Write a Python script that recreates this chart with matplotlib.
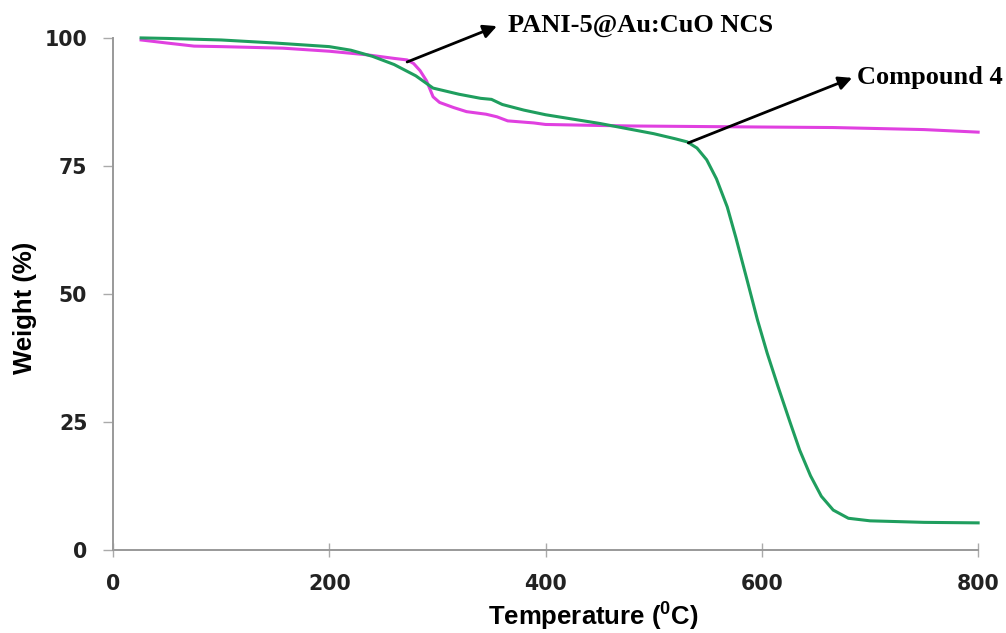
import matplotlib
matplotlib.use("Agg")
import matplotlib.pyplot as plt

# TGA curves
temp_c4 = [26, 50, 100, 150, 200, 220, 240, 260, 280, 296, 320, 340, 350, 360, 380, 400,
           450, 500, 520, 531, 540, 549, 558, 568, 576, 586, 596, 605, 615, 626, 635,
           645, 655, 666, 680, 700, 750, 800]
wt_c4 = [100, 99.9, 99.6, 99.0, 98.3, 97.6, 96.4, 94.8, 92.6, 90.2, 89.0, 88.2, 88.0, 87.0,
         85.9, 85.0, 83.3, 81.3, 80.3, 79.7, 78.5, 76.2, 72.5, 67.0, 61.0, 53.0, 44.9,
         38.4, 31.9, 25.0, 19.5, 14.5, 10.5, 7.8, 6.2, 5.7, 5.4, 5.3]

temp_pani = [26, 50, 75, 100, 157, 200, 235, 260, 272, 278, 284, 290, 296, 302, 315, 327,
             345, 355, 365, 389, 400, 450, 481, 600, 666, 750, 800]
wt_pani = [99.6, 99.0, 98.4, 98.3, 98.0, 97.4, 96.7, 96.0, 95.7, 95.0, 93.6, 91.6, 88.5,
           87.4, 86.4, 85.6, 85.1, 84.6, 83.8, 83.4, 83.1, 82.9, 82.8, 82.6, 82.5, 82.1, 81.6]

xticks = [0, 200, 400, 600, 800]
yticks = [0, 25, 50, 75, 100]

plt.rcParams["mathtext.fontset"] = "custom"
plt.rcParams["mathtext.rm"] = "Liberation Sans"
plt.rcParams["mathtext.bf"] = "Liberation Sans:bold"

fig = plt.figure(figsize=(10.06, 6.33), dpi=100)
ax = fig.add_axes([0.1123, 0.1311, 0.86, 0.809])

ax.plot(temp_pani, wt_pani, color="#e040e0", lw=2.2, clip_on=False)
ax.plot(temp_c4, wt_c4, color="#1f9e5e", lw=2.2, clip_on=False)

ax.set_xlim(0, 800)
ax.set_ylim(0, 100)
ax.set_xticks(xticks)
ax.set_yticks(yticks)

for s in ["top", "right"]:
    ax.spines[s].set_visible(False)
for s in ["left", "bottom"]:
    ax.spines[s].set_color("#999999")
    ax.spines[s].set_linewidth(1.4)

ax.tick_params(axis="both", colors="#aaaaaa", labelcolor="#222222", width=1.0,
               labelsize=14.8)
ax.tick_params(axis="x", direction="inout", length=10, pad=12)
ax.tick_params(axis="y", direction="out", length=7, pad=11.5)
for lab in ax.get_xticklabels() + ax.get_yticklabels():
    lab.set_fontfamily("DejaVu Sans")
    lab.set_fontweight("bold")

ax.set_xlabel(r"Temperature ($\mathbf{^0}$C)", fontsize=18.5, fontweight="bold",
              family="Liberation Sans", va="center", ha="center")
ax.xaxis.set_label_coords(0.555, -0.131)
ax.set_ylabel("Weight (%)", fontsize=18.5, fontweight="bold", family="Liberation Sans",
              va="center", ha="center")
ax.yaxis.set_label_coords(-0.102, 0.473)

arrow = dict(arrowstyle="-|>", color="black", lw=2, mutation_scale=20, shrinkA=0, shrinkB=0)
ax.annotate("", xy=(355, 102.3), xytext=(272, 95.3), annotation_clip=False, arrowprops=arrow)
ax.text(365, 102.5, "PANI-5@Au:CuO NCS", ha="left", va="center", fontsize=19,
        fontweight="bold", family="Liberation Serif", clip_on=False)
ax.annotate("", xy=(683.5, 92.2), xytext=(532, 79.5), annotation_clip=False, arrowprops=arrow)
ax.text(688, 92.2, "Compound 4", ha="left", va="center", fontsize=19,
        fontweight="bold", family="Liberation Serif", clip_on=False)

fig.savefig("out.png", dpi=100)
